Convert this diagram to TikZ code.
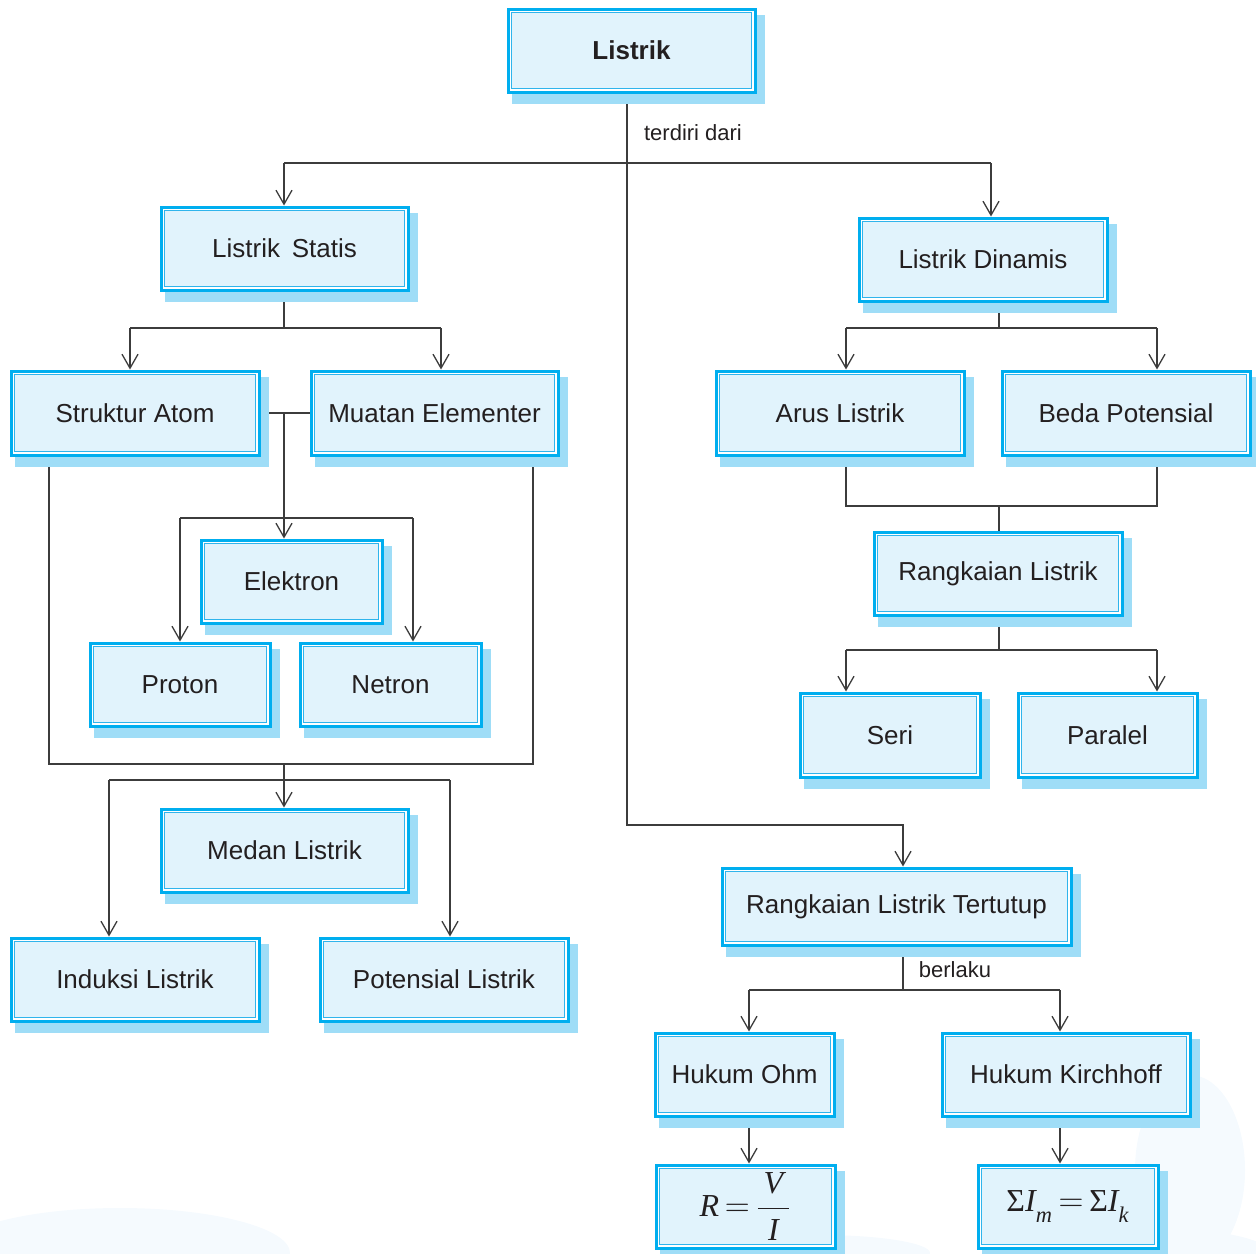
\documentclass[tikz,border=0pt]{standalone}
\usepackage{fontspec}
\usepackage{amsmath}
\setmainfont{Liberation Sans}
\newfontfamily\lserif{Liberation Serif}
\usetikzlibrary{arrows.meta}

\pgfdeclarelayer{wash}
\pgfdeclarelayer{lines}
\pgfdeclarelayer{boxback}
\pgfsetlayers{wash,lines,boxback,main}

\definecolor{boxcyan}{HTML}{00AEEF}
\definecolor{boxfill}{HTML}{E1F3FC}
\definecolor{boxshade}{HTML}{9FDDF7}
\definecolor{boxinner}{HTML}{2FB4EC}
\definecolor{linkgray}{HTML}{3C3C3C}
\definecolor{inkblack}{HTML}{231F20}
\definecolor{washblue}{HTML}{F5FAFE}

\tikzset{
  cbox/.style={rectangle, draw=boxcyan, line width=1.5pt, text=inkblack,
    font=\fontsize{13pt}{15pt}\selectfont, inner sep=0pt},
  link/.style={draw=linkgray, line width=0.65pt},
  arr/.style={link, -{Straight Barb[length=7pt,width=8pt,line width=0.65pt]}},
  note/.style={text=inkblack, font=\fontsize{11pt}{13pt}\selectfont, inner sep=0pt},
}

% concept box: name, x, y, width, height (in picture units), text
\newcommand\conceptbox[6]{%
  \node[cbox, minimum width=#4*0.5pt, minimum height=#5*0.5pt] (#1) at (#2,#3) {#6};
  \begin{pgfonlayer}{boxback}
    \fill[boxshade] ([shift={(2.7pt,-3.7pt)}]#1.north west) rectangle ([shift={(4.3pt,-5.3pt)}]#1.south east);
    \fill[white] (#1.north west) rectangle (#1.south east);
    \draw[boxinner, fill=boxfill, line width=0.6pt]
      ([shift={(2.4pt,-2.4pt)}]#1.north west) rectangle ([shift={(-2.4pt,2.4pt)}]#1.south east);
  \end{pgfonlayer}}

\newcommand\sit[1]{\text{\lserif\itshape #1}}
\newcommand\ssub[1]{\text{\raisebox{-2.5pt}{\lserif\itshape #1}}}
\newcommand\eqsign{\mkern3mu{=}\mkern3mu}

\begin{document}
\begin{tikzpicture}[x=0.5pt, y=-0.5pt]
\useasboundingbox (0,0) rectangle (1256,1253);

% faint wash in the lower corners
\begin{pgfonlayer}{wash}
  \fill[washblue] (1190,1170) ellipse [x radius=55, y radius=95];
  \fill[washblue] (1150,1253) ellipse [x radius=120, y radius=25];
  \fill[washblue] (120,1253) ellipse [x radius=170, y radius=45];
  \fill[washblue] (820,1253) ellipse [x radius=110, y radius=18];
\end{pgfonlayer}

% boxes
\conceptbox{top}{631.5}{50.5}{247}{83}{\bfseries Listrik}
\conceptbox{ls}{284.5}{248.5}{247}{83}{Listrik\hspace{0.45em}Statis}
\conceptbox{ld}{983}{259.5}{248}{83}{Listrik Dinamis}
\conceptbox{sa}{135}{413}{248}{84}{Struktur Atom}
\conceptbox{me}{434.5}{413}{247}{84}{Muatan Elementer}
\conceptbox{al}{840}{413}{248}{84}{Arus Listrik}
\conceptbox{bp}{1126}{413}{248}{84}{Beda Potensial}
\conceptbox{el}{291.5}{581.5}{181}{83}{Elektron}
\conceptbox{pr}{180}{684.5}{180}{83}{Proton}
\conceptbox{ne}{390.5}{684.5}{181}{83}{Netron}
\conceptbox{rl}{998}{573.5}{248}{83}{Rangkaian Listrik}
\conceptbox{se}{890}{735}{180}{84}{Seri}
\conceptbox{pa}{1107.5}{735}{179}{84}{Paralel}
\conceptbox{ml}{284.5}{850.5}{247}{83}{Medan Listrik}
\conceptbox{il}{135}{979.5}{248}{83}{Induksi Listrik}
\conceptbox{pl}{444}{979.5}{248}{83}{Potensial Listrik}
\conceptbox{rlt}{896.5}{906.5}{349}{77}{Rangkaian Listrik Tertutup}
\conceptbox{ho}{744.5}{1074.5}{179}{83}{Hukum Ohm}
\conceptbox{hk}{1066}{1074.5}{248}{83}{Hukum Kirchhoff}
\conceptbox{fo}{745.5}{1206.5}{179}{83}{\fontsize{16pt}{20pt}\selectfont$\sit{R}\eqsign\dfrac{\,\sit{V}\,}{\sit{I}}$}
\conceptbox{fk}{1068}{1206.5}{180}{83}{\fontsize{16pt}{20pt}\selectfont$\text{\lserif Σ}\sit{I}_{\ssub{m}}\eqsign\text{\lserif Σ}\sit{I}_{\ssub{k}}$}

% labels on connectors
\node[note] (lbl1) at (693,133) {terdiri dari};
\node[note] (lbl2) at (955,970) {berlaku};

% junction points
\coordinate (j1l) at (284,163);
\coordinate (j1r) at (991,163);
\coordinate (j2l) at (130,328);
\coordinate (j2r) at (441,328);
\coordinate (j3) at (284,413);
\coordinate (j4l) at (180,518);
\coordinate (j4r) at (413,518);
\coordinate (j5) at (284,764);
\coordinate (j6l) at (109,780);
\coordinate (j6r) at (450,780);
\coordinate (j7l) at (846,328);
\coordinate (j7r) at (1157,328);
\coordinate (j8) at (999,506);
\coordinate (j9l) at (846,650);
\coordinate (j9r) at (1157,650);
\coordinate (j10l) at (749,990);
\coordinate (j10r) at (1060,990);

\begin{pgfonlayer}{lines}
  % Listrik
  \draw[arr] (627,0 |- top.south) -- (627,825) -| (903,0 |- rlt.north);
  \draw[link] (j1l) -- (j1r);
  \draw[arr] (j1l) -- (284,0 |- ls.north);
  \draw[arr] (j1r) -- (991,0 |- ld.north);
  % Listrik Statis
  \draw[link] (284,0 |- ls.south) -- (284,328);
  \draw[link] (j2l) -- (j2r);
  \draw[arr] (j2l) -- (130,0 |- sa.north);
  \draw[arr] (j2r) -- (441,0 |- me.north);
  % atom structure and elementary charge
  \draw[link] (sa.east) -- (me.west);
  \draw[arr] (j3) -- (284,0 |- el.north);
  \draw[link] (j4l) -- (j4r);
  \draw[arr] (j4l) -- (180,0 |- pr.north);
  \draw[arr] (j4r) -- (413,0 |- ne.north);
  % electric field and what follows
  \draw[link] (49,0 |- sa.south) -- (49,764) -- (533,764) -- (533,0 |- me.south);
  \draw[arr] (j5) -- (284,0 |- ml.north);
  \draw[link] (j6l) -- (j6r);
  \draw[arr] (j6l) -- (109,0 |- il.north);
  \draw[arr] (j6r) -- (450,0 |- pl.north);
  % Listrik Dinamis
  \draw[link] (999,0 |- ld.south) -- (999,328);
  \draw[link] (j7l) -- (j7r);
  \draw[arr] (j7l) -- (846,0 |- al.north);
  \draw[arr] (j7r) -- (1157,0 |- bp.north);
  \draw[link] (846,0 |- al.south) -- (846,506) -- (1157,506) -- (1157,0 |- bp.south);
  \draw[link] (j8) -- (999,0 |- rl.north);
  \draw[link] (999,0 |- rl.south) -- (999,650);
  \draw[link] (j9l) -- (j9r);
  \draw[arr] (j9l) -- (846,0 |- se.north);
  \draw[arr] (j9r) -- (1157,0 |- pa.north);
  % closed circuit laws
  \draw[link] (903,0 |- rlt.south) -- (903,990);
  \draw[link] (j10l) -- (j10r);
  \draw[arr] (j10l) -- (749,0 |- ho.north);
  \draw[arr] (j10r) -- (1060,0 |- hk.north);
  \draw[arr] (749,0 |- ho.south) -- (749,0 |- fo.north);
  \draw[arr] (1060,0 |- hk.south) -- (1060,0 |- fk.north);
\end{pgfonlayer}
\end{tikzpicture}
\end{document}
